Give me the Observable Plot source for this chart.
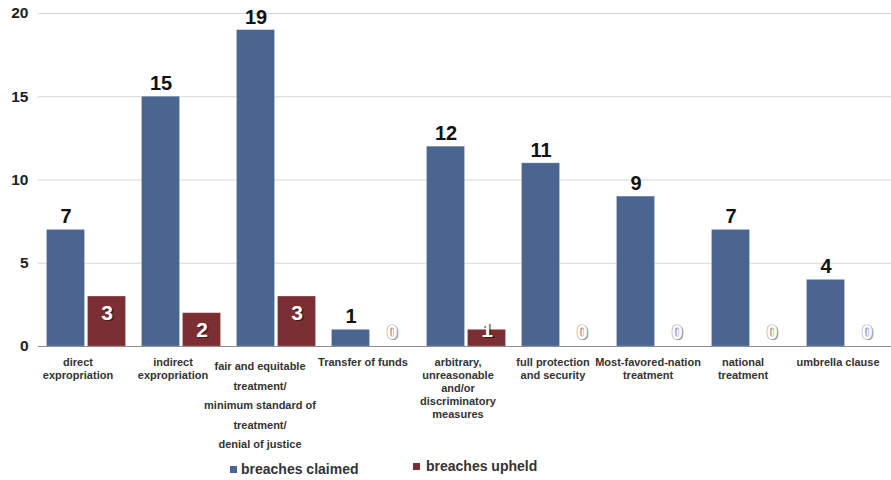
<!DOCTYPE html>
<html>
<head>
<meta charset="utf-8">
<script src="https://cdn.jsdelivr.net/npm/d3@7"></script>
<script src="https://cdn.jsdelivr.net/npm/@observablehq/plot@0.6"></script>
<style>
  html, body { margin: 0; padding: 0; background: #fff; }
  #wrap { position: relative; width: 891px; height: 480px; overflow: hidden; font-family: "Liberation Sans", Arial, sans-serif; }
  #chart svg { display: block; }
  .lg-sw { position: absolute; width: 7px; height: 7px; }
  .lg-tx { position: absolute; font-size: 14px; font-weight: bold; color: #333; line-height: 16px; white-space: nowrap; }
</style>
</head>
<body>
<div id="wrap">
  <div id="chart"></div>
  <div id="legend"></div>
</div>
<script>
const categories = [
  "direct\nexpropriation",
  "indirect\nexpropriation",
  "fair and equitable\ntreatment/\nminimum standard of\ntreatment/\ndenial of justice",
  "Transfer of funds",
  "arbitrary,\nunreasonable\nand/or\ndiscriminatory\nmeasures",
  "full protection\nand security",
  "Most-favored-nation\ntreatment",
  "national\ntreatment",
  "umbrella clause"
];
const breachesClaimed = [7, 15, 19, 1, 12, 11, 9, 7, 4];
const breachesUpheld = [3, 2, 3, 0, 1, 0, 0, 0, 0];
const seriesNames = ["breaches claimed", "breaches upheld"];
const seriesColors = ["#4a6590", "#7b2f33"];
const yTicks = [0, 5, 10, 15, 20];

const rows = categories.flatMap((c, i) => [
  {category: c, series: seriesNames[0], value: breachesClaimed[i]},
  {category: c, series: seriesNames[1], value: breachesUpheld[i]}
]);
const longLabel = categories[2];

const font = "Liberation Sans, Arial, sans-serif";

const chart = Plot.plot({
  width: 891,
  height: 452,
  marginTop: 13,
  marginBottom: 106,
  marginLeft: 37.5,
  marginRight: 0,
  style: {fontFamily: font, background: "#fff"},
  fx: {domain: categories, range: [37.5, 893.4], padding: 0, axis: null},
  x: {domain: seriesNames, paddingInner: 0.08, paddingOuter: 0.18, axis: null},
  y: {domain: [0, 20]},
  color: {domain: seriesNames, range: seriesColors},
  marks: [
    Plot.gridY(yTicks, {stroke: "#d6d6d6", strokeOpacity: 1}),
    Plot.axisY(yTicks, {tickSize: 0, tickPadding: 10, fontSize: 15.5, fontWeight: "bold", fill: "#222", label: null}),
    Plot.barY(rows, {fx: "category", x: "series", y: "value", fill: "series", stroke: "#ffffff", strokeOpacity: 0.25, strokeWidth: 0.8}),
    Plot.ruleY([0], {stroke: "#8c8c8c", strokeWidth: 1.2}),
    // claimed value labels above bars
    Plot.text(rows, {filter: d => d.series === seriesNames[0], fx: "category", x: "series", y: "value",
      text: d => String(d.value), lineAnchor: "bottom", dy: -6.5, fontSize: 20, fontWeight: "bold", fill: "#111"}),
    // upheld labels (nonzero): shadow + white
    Plot.text(rows, {filter: d => d.series === seriesNames[1] && d.value > 0, fx: "category", x: "series",
      y: d => Math.max(d.value - 1, 1), text: d => String(d.value), dx: 1.5, dy: 1.5,
      fontSize: 21, fontWeight: "bold", fill: "#2a0d0d", fillOpacity: 0.7}),
    Plot.text(rows, {filter: d => d.series === seriesNames[1] && d.value > 0, fx: "category", x: "series",
      y: d => Math.max(d.value - 1, 1), text: d => String(d.value),
      fontSize: 21, fontWeight: "bold", fill: "#ffffff"}),
    // upheld zero labels
    Plot.text(rows, {filter: d => d.series === seriesNames[1] && d.value === 0, fx: "category", x: "series",
      y: "value", text: d => String(d.value), dx: 1.5, dy: -12.5,
      fontSize: 20, fontWeight: "bold", fill: "#8a8a8a", fillOpacity: 0.8}),
    Plot.text(rows, {filter: d => d.series === seriesNames[1] && d.value === 0, fx: "category", x: "series",
      y: "value", text: d => String(d.value), dy: -14,
      fontSize: 20, fontWeight: "bold", fill: "#ffffff", stroke: "#a0a0a0", strokeWidth: 1.2, paintOrder: "stroke"}),
    // category labels
    Plot.text(categories, {filter: d => d !== longLabel, fx: d => d, text: d => d, frameAnchor: "bottom",
      lineAnchor: "top", dy: 10, dx: -8, fontSize: 11, fontWeight: "bold", fill: "#333", lineHeight: 1.18}),
    Plot.text(categories, {filter: d => d === longLabel, fx: d => d, text: d => d, frameAnchor: "bottom",
      lineAnchor: "top", dy: 10, dx: -16, fontSize: 11, fontWeight: "bold", fill: "#333", lineHeight: 1.77})
  ]
});
document.getElementById("chart").appendChild(chart);

const legend = document.getElementById("legend");
const legendPos = [
  {sx: 230, sy: 466, tx: 241, ty: 461},
  {sx: 413, sy: 463, tx: 426, ty: 458}
];
seriesNames.forEach((name, i) => {
  const sw = document.createElement("div");
  sw.className = "lg-sw";
  sw.style.left = legendPos[i].sx + "px";
  sw.style.top = legendPos[i].sy + "px";
  sw.style.background = seriesColors[i];
  legend.appendChild(sw);
  const tx = document.createElement("div");
  tx.className = "lg-tx";
  tx.style.left = legendPos[i].tx + "px";
  tx.style.top = legendPos[i].ty + "px";
  tx.textContent = name;
  legend.appendChild(tx);
});
</script>
</body>
</html>
